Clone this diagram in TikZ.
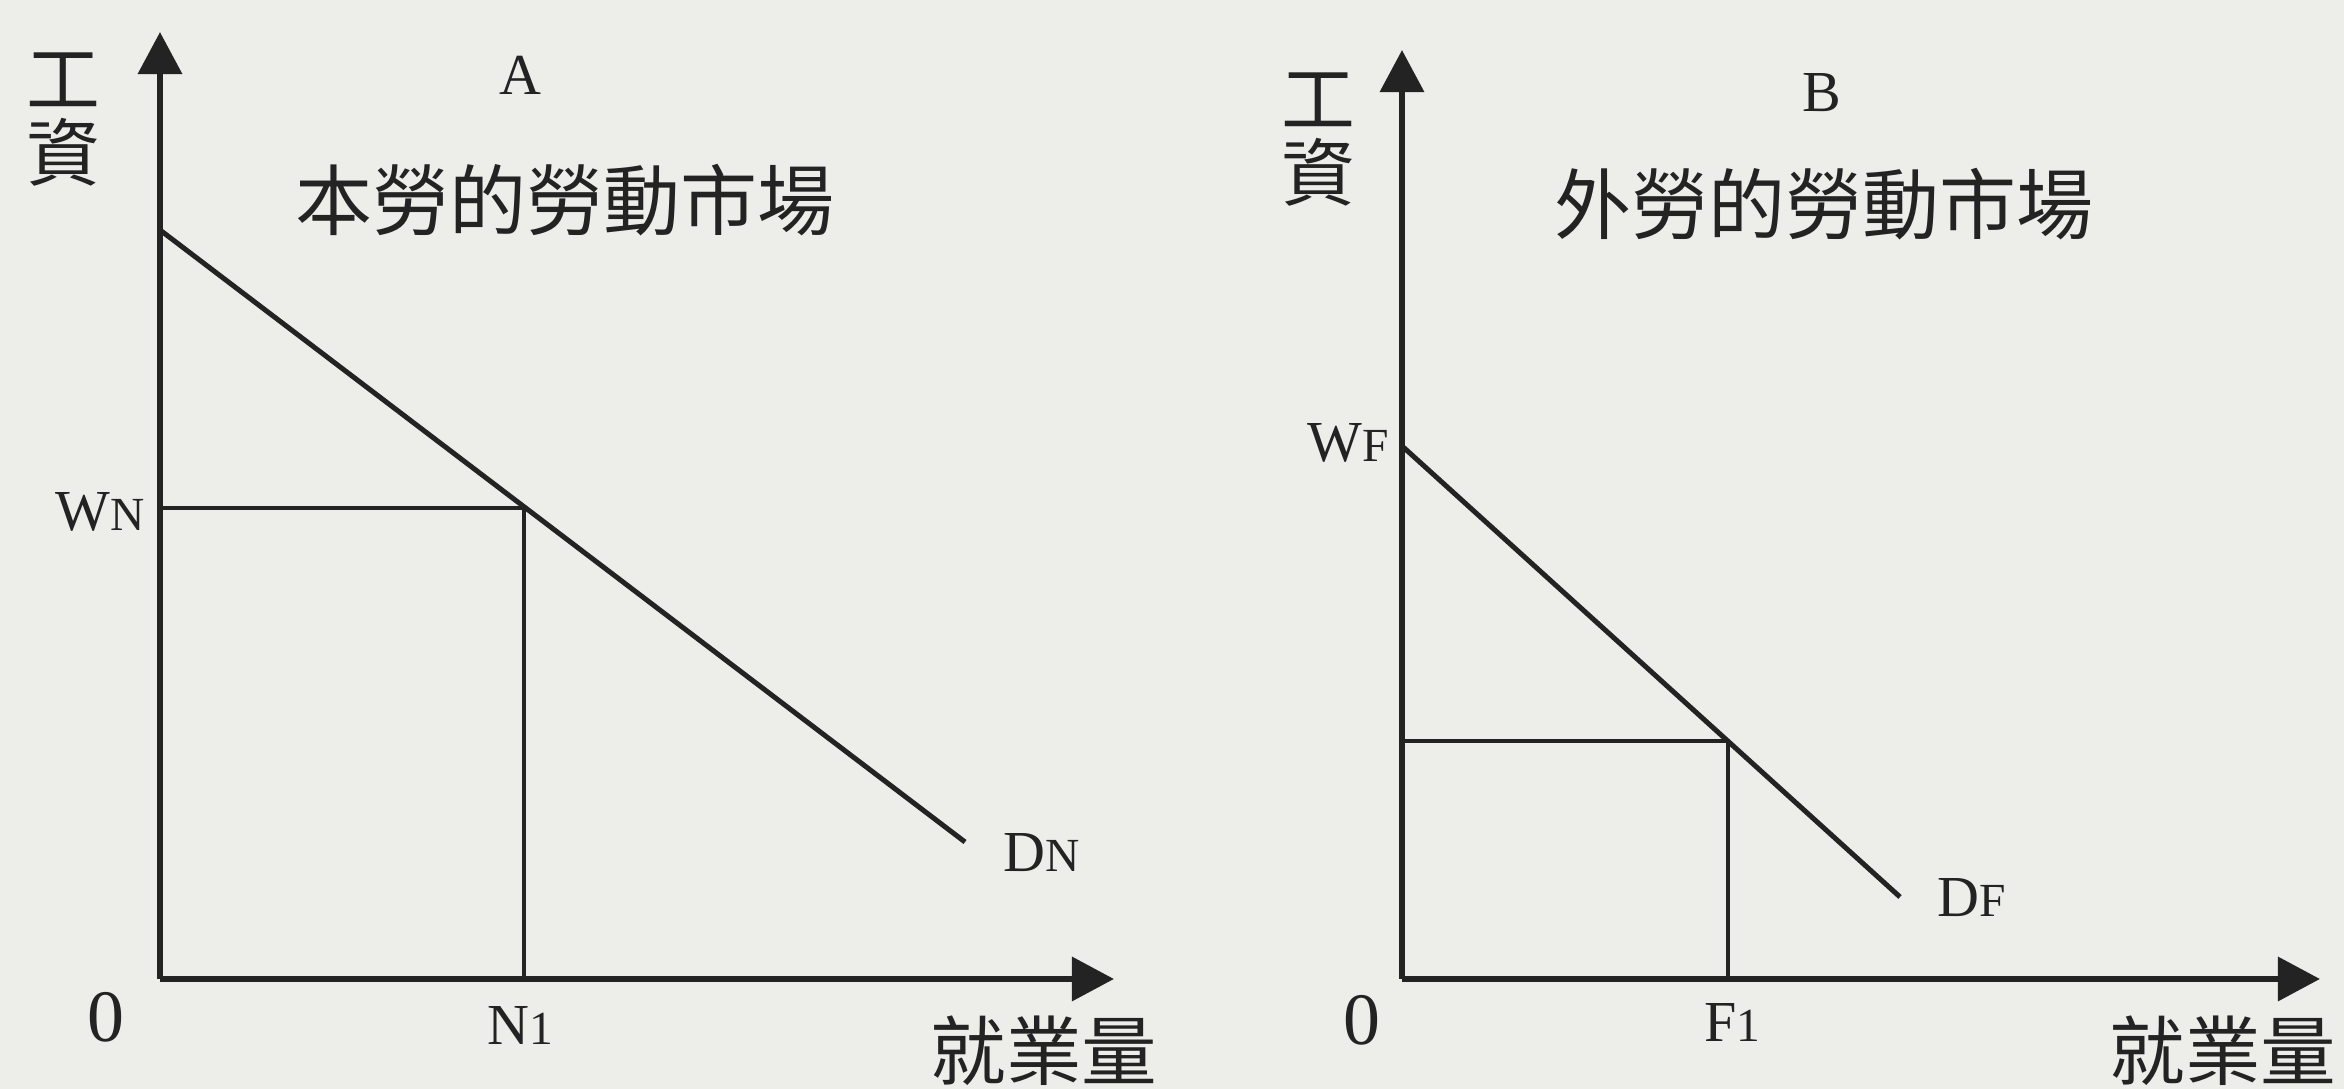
\documentclass[tikz,border=0pt]{standalone}
\usepackage{fontspec}
\setmainfont{Liberation Serif}
\newfontfamily\cjk{Noto Sans CJK TC}
\usetikzlibrary{arrows.meta}
\definecolor{paper}{HTML}{EDEDEA}
\definecolor{ink}{HTML}{232323}
\newcommand\smallsub[1]{{\fontsize{13.5pt}{14pt}\selectfont #1}}
\begin{document}
\begin{tikzpicture}[x=0.01cm,y=-0.01cm,
  axis/.style={line width=0.65mm, draw=ink, -{Triangle[width=4.3mm,length=4.2mm]}},
  curve/.style={line width=0.5mm, draw=ink},
  guide/.style={line width=0.45mm, draw=ink},
  lab/.style={inner sep=0pt, text=ink, font=\fontsize{16.5pt}{18pt}\selectfont},
  zero/.style={inner sep=0pt, text=ink, font=\fontsize{21pt}{22pt}\selectfont},
  cjktitle/.style={inner sep=0pt, text=ink, font=\cjk\fontsize{21.9pt}{22pt}\selectfont},
  cjkaxis/.style={inner sep=0pt, text=ink, align=center, font=\cjk\fontsize{21pt}{21pt}\selectfont},
  cjkqty/.style={inner sep=0pt, text=ink, font=\cjk\fontsize{21.5pt}{22pt}\selectfont}]
\fill[paper] (0,0) rectangle (2344,1089);
\useasboundingbox (0,0) rectangle (2344,1089);

% ---------- Panel A ----------
\coordinate (OA) at (160,979);
\coordinate (yA) at (160,32);
\coordinate (xA) at (1114,979);
\coordinate (dA1) at (160,230);
\coordinate (dA2) at (965,842);
\coordinate (wA) at (160,508);
\coordinate (eA) at (524,508);
\coordinate (nA) at (524,979);

\draw[guide] (wA) -- (eA) -- (nA);
\draw[curve] (dA1) -- (dA2);
\draw[axis] (OA) -- (yA);
\draw[axis] (OA) -- (xA);

\node[lab, anchor=base] (labA) at (520,95) {A};
\node[cjktitle, anchor=base] (titleA) at (565,230) {本勞的勞動市場};
\node[cjkaxis] (wageA) at (63,120) {工\\資};
\node[lab, anchor=base] (WN) at (100,531) {W\smallsub{N}};
\node[lab, anchor=base] (DN) at (1042,872) {D\smallsub{N}};
\node[zero, anchor=base] (zeroA) at (106,1042) {0};
\node[lab, anchor=base] (N1) at (520,1045) {N\smallsub{1}};
\node[cjkqty, anchor=base east] (qtyA) at (1158,1080) {就業量};

% ---------- Panel B ----------
\coordinate (OB) at (1402,979);
\coordinate (yB) at (1402,50);
\coordinate (xB) at (2320,979);
\coordinate (dB1) at (1402,446);
\coordinate (dB2) at (1900,897);
\coordinate (wB) at (1402,741);
\coordinate (eB) at (1728,741);
\coordinate (fB) at (1728,979);

\draw[guide] (wB) -- (eB) -- (fB);
\draw[curve] (dB1) -- (dB2);
\draw[axis] (OB) -- (yB);
\draw[axis] (OB) -- (xB);

\node[lab, anchor=base] (labB) at (1822,112) {B};
\node[cjktitle, anchor=base] (titleB) at (1824,234) {外勞的勞動市場};
\node[cjkaxis] (wageB) at (1318,140) {工\\資};
\node[lab, anchor=base] (WF) at (1348,462) {W\smallsub{F}};
\node[lab, anchor=base] (DF) at (1972,917) {D\smallsub{F}};
\node[zero, anchor=base] (zeroB) at (1362,1045) {0};
\node[lab, anchor=base] (F1) at (1732,1042) {F\smallsub{1}};
\node[cjkqty, anchor=base east] (qtyB) at (2337,1080) {就業量};
\end{tikzpicture}
\end{document}
